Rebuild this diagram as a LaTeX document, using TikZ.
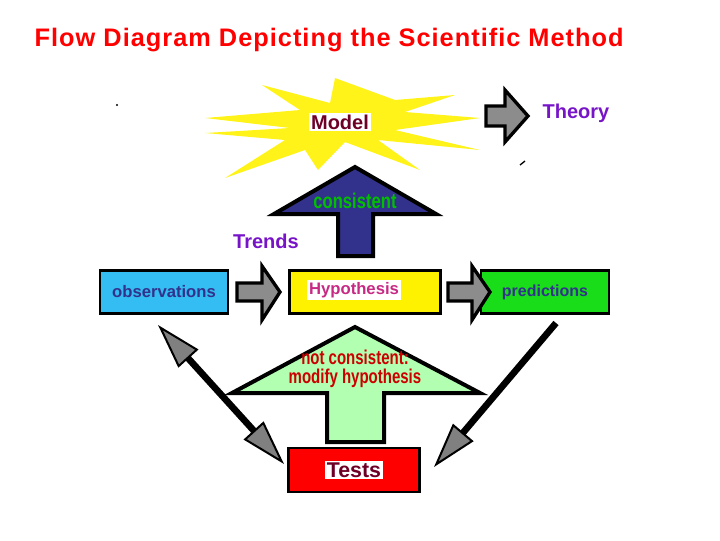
\documentclass[tikz,border=0pt]{standalone}
\usepackage{fontspec}
\setmainfont{Liberation Sans}
\usetikzlibrary{arrows.meta}
\definecolor{maroon}{RGB}{110,0,40}
\definecolor{violet}{RGB}{120,20,200}
\definecolor{navyb}{RGB}{50,50,140}
\tikzset{
  box/.style={draw=black, line width=2pt, minimum height=32pt, inner sep=0pt},
  lbl/.style={fill=white, inner sep=1.5pt, font=\bfseries},
  blockarrow/.style={draw=black, line width=2.5pt, fill=gray!90, line join=miter},
  bigarrow/.style={draw=black, line width=3pt, line join=miter},
  tip/.tip={Triangle[length=34pt,width=20pt,fill=gray,line width=1.5pt]},
  diag/.style={line width=5pt}
}
\begin{document}
\begin{tikzpicture}[x=0.75pt,y=-0.75pt]
\useasboundingbox (0,0) rectangle (720,540);

\node[anchor=west, text=red, font=\fontsize{19}{21}\selectfont\bfseries\addfontfeature{LetterSpace=4}] (title) at (30,40) {Flow Diagram Depicting the Scientific Method};

% star
\fill[yellow!90!white] (480,118) -- (405,112) -- (455,95) -- (395,100) -- (335,78) -- (330,103) -- (262,85) -- (300,110)
  -- (205,118) -- (290,128) -- (205,133) -- (285,140) -- (225,178) -- (305,150) -- (318,170) -- (345,142)
  -- (420,170) -- (378,140) -- (480,150) -- (395,130) -- cycle;
\node[lbl, text=maroon, font=\fontsize{15}{17}\selectfont\bfseries] (model) at (340,122) {Model};

% theory arrow
\draw[blockarrow] (486,106) -- (505,106) -- (505,90) -- (528,116) -- (505,142) -- (505,126) -- (486,126) -- cycle;
\node[text=violet, font=\fontsize{15}{17}\selectfont\bfseries] (theory) at (576,113) {Theory};
\draw[line width=1pt] (520,165) -- (525,161);
\fill (117,105) circle (1.2);

% consistent arrow
\draw[bigarrow, fill=navyb] (355,167) -- (436,214) -- (373,214) -- (373,256) -- (338,256) -- (338,214) -- (274,214) -- cycle;
\node[text=green!75!black, font=\fontsize{16}{17}\selectfont\bfseries] (cons) at (355,201) {\scalebox{0.78}[1]{consistent}};
\node[text=violet, font=\fontsize{15}{17}\selectfont\bfseries] (trends) at (266,241) {Trends};

% boxes
\node[box, fill=cyan!80!white, minimum width=96pt, text=navyb, font=\fontsize{12.5}{15}\selectfont\bfseries] (obs) at (164,292) {observations};
\node[box, fill=yellow, minimum width=113pt] (hyp) at (365,292) {};
\node[lbl, text=magenta!80!black, font=\fontsize{12.5}{14}\selectfont\bfseries] (hyptext) at (354,290) {Hypothesis};
\node[box, fill=green!85!black!90!white, minimum width=96pt, text=navyb, font=\fontsize{12}{15}\selectfont\bfseries] (pred) at (545,292) {predictions};

% gray arrows
\draw[blockarrow] (237,283) -- (262,283) -- (262,266) -- (280,292) -- (262,320) -- (262,301) -- (237,301) -- cycle;
\draw[blockarrow] (448,283) -- (472,283) -- (472,266) -- (490,292) -- (472,320) -- (472,301) -- (448,301) -- cycle;

% not consistent arrow
\draw[bigarrow, fill=green!30] (355,327) -- (480,393) -- (384,393) -- (384,442) -- (327,442) -- (327,393) -- (232,393) -- cycle;
\node[text=red!80!black, align=center, font=\fontsize{15}{15}\selectfont\bfseries] (notcons) at (355,369) {\scalebox{0.75}[1]{not consistent:}\\[-1pt]\scalebox{0.75}[1]{modify hypothesis}};

% tests
\node[box, fill=red, minimum width=98pt, minimum height=33pt] (tests) at (354,470) {};
\node[lbl, text=maroon, font=\fontsize{16}{18}\selectfont\bfseries] (teststext) at (354,470) {Tests};

% diagonal arrows
\coordinate (l1) at (158,325);
\coordinate (l2) at (284,464);
\coordinate (r1) at (556,323);
\coordinate (r2) at (434,467);
\draw[diag, {tip}-{tip}] (l1) -- (l2);
\draw[diag, -{tip}] (r1) -- (r2);
\end{tikzpicture}
\end{document}
